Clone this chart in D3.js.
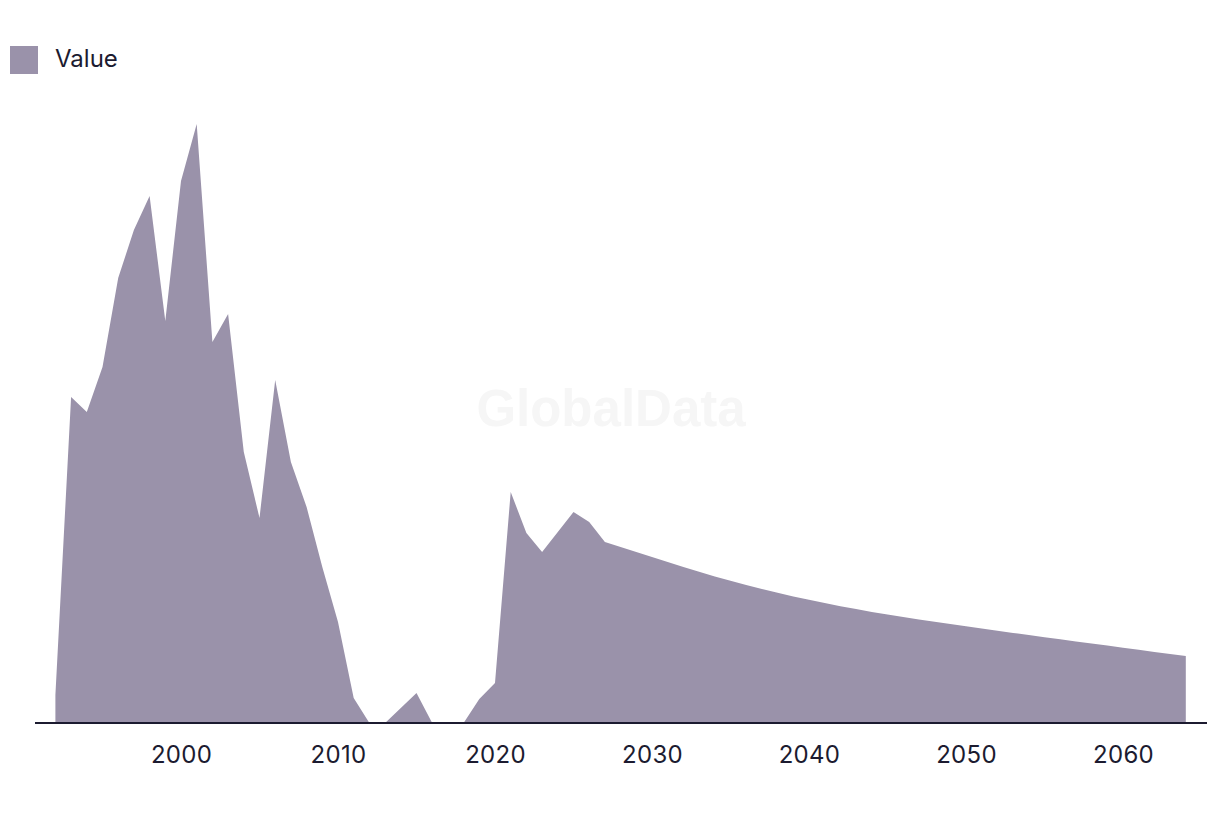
<!DOCTYPE html>
<html>
<head>
<meta charset="utf-8">
<script src="https://cdn.jsdelivr.net/npm/d3@7/dist/d3.min.js"></script>
<style>
  html, body { margin: 0; padding: 0; background: #ffffff; }
  svg { display: block; }
</style>
</head>
<body>
<svg id="chart" width="1220" height="814"></svg>
<script>
// ---- data (arbitrary units) ----
const years = d3.range(1992, 2065);
const values = [
  28, 326, 311, 356, 445, 493, 527, 402, 542, 599,
  381, 409, 271, 205, 343, 261, 216, 156, 101, 25,
  0, 0, 15, 30, 0, 0, 0, 24, 40, 231,
  190, 171, 191, 211, 201, 181, 176, 171, 166, 161,
  156, 151.2, 146.6, 142.2, 138, 134, 130.2, 126.6, 123.2, 119.9,
  116.8, 113.9, 111.1, 108.5, 106, 103.6, 101.3, 99, 96.8, 94.5,
  92.3, 90.1, 87.9, 85.8, 83.7, 81.6, 79.5, 77.4, 75.3, 73.2,
  71.1, 69, 67
];
const tickYears = [2000, 2010, 2020, 2030, 2040, 2050, 2060];
const seriesName = "Value";

const data = years.map((y, i) => ({ year: y, value: values[i] }));

const svg = d3.select("#chart");
const fillColor = "#9a92aa";
const inkColor = "#1c1b30";

const x = d3.scaleLinear().domain([1992, 2064]).range([55.4, 1185.8]);
const y = d3.scaleLinear().domain([0, 600]).range([723, 123]);

// watermark
svg.append("text")
  .attr("x", 611).attr("y", 425.5)
  .attr("text-anchor", "middle")
  .attr("font-family", "'Liberation Sans', Arial, sans-serif")
  .attr("font-weight", "bold")
  .attr("font-size", 51)
  .attr("fill", "#f6f6f6")
  .text("GlobalData");

// area
const area = d3.area()
  .x(d => x(d.year))
  .y0(y(0))
  .y1(d => y(d.value));

svg.append("path")
  .datum(data)
  .attr("d", area)
  .attr("fill", fillColor);

// x axis
const axis = d3.axisBottom(x)
  .tickValues(tickYears)
  .tickFormat(d3.format("d"))
  .tickSize(0)
  .tickPadding(23);

const gx = svg.append("g")
  .attr("transform", `translate(0,${y(0)})`)
  .call(axis);
gx.select(".domain").remove();
gx.append("line")
  .attr("x1", 35).attr("x2", 1207)
  .attr("y1", 0).attr("y2", 0)
  .attr("stroke", inkColor).attr("stroke-width", 2);
gx.selectAll(".tick text")
  .attr("fill", inkColor)
  .attr("font-family", "Inter, 'Liberation Sans', sans-serif")
  .attr("font-size", 24)
  .attr("letter-spacing", 0.3);

// legend
const lg = svg.append("g");
lg.append("rect")
  .attr("x", 10).attr("y", 46).attr("width", 28).attr("height", 28)
  .attr("fill", fillColor);
lg.append("text")
  .attr("x", 55).attr("y", 66.5)
  .attr("fill", inkColor)
  .attr("font-family", "Inter, 'Liberation Sans', sans-serif")
  .attr("font-size", 24)
  .text(seriesName);
</script>
</body>
</html>
